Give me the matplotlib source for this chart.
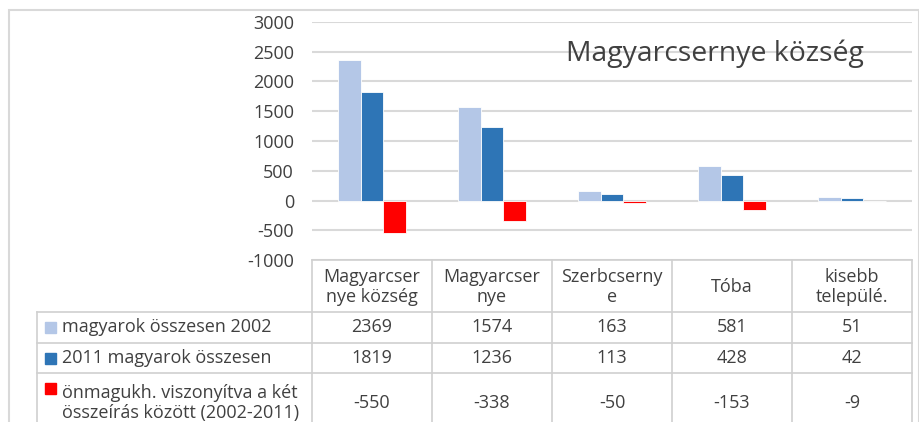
import numpy as np
import matplotlib.pyplot as plt
from matplotlib.patches import Rectangle
from matplotlib.lines import Line2D

# ===============================
# Data
# ===============================
categories = ["Magyarcser\nnye község", "Magyarcser\nnye", "Szerbcserny\ne", "Tóba", "kisebb\ntelepülé."]
series_names = ["magyarok összesen 2002", "2011 magyarok összesen",
                "önmagukh. viszonyítva a két\nösszeírás között (2002-2011)"]
hu_2002 = [2369, 1574, 163, 581, 51]
hu_2011 = [1819, 1236, 113, 428, 42]
change = [-550, -338, -50, -153, -9]
colors = ["#B4C7E7", "#2E75B6", "#FF0000"]

plt.rcParams['font.family'] = ['Open Sans', 'DejaVu Sans']
plt.rcParams['axes.unicode_minus'] = False

W, H = 920, 422
fig = plt.figure(figsize=(W / 100, H / 100), dpi=100)

def fx(px):
    return px / W

def fy(py):
    return 1 - py / H

# outer chart frame
fig.add_artist(Rectangle((fx(9), fy(440)), fx(910), (440 - 10) / H, transform=fig.transFigure,
                         fill=False, edgecolor="#d9d9d9", linewidth=1.5))

# ===============================
# Bars
# ===============================
ax = fig.add_axes([fx(312), fy(260), fx(600), (260 - 22) / H])
x = np.arange(len(categories))
w = 0.19
for i, vals in enumerate([hu_2002, hu_2011, change]):
    ax.bar(x + (i - 1) * w, vals, width=w, color=colors[i], edgecolor="white", linewidth=0.6, zorder=3)

ax.set_xlim(-0.5, len(categories) - 0.5)
ax.set_ylim(-1000, 3000)
ax.set_yticks(range(-1000, 3001, 500))
ax.tick_params(axis='y', length=0, labelsize=13, labelcolor="#404040", pad=13)
ax.set_xticks([])
ax.grid(axis='y', color="#d9d9d9", linewidth=1.5, zorder=0)
for s in ax.spines.values():
    s.set_visible(False)

ax.text(0.672, 0.865, "Magyarcsernye község", transform=ax.transAxes, ha='center', va='center',
        fontsize=20.4, color="#404040")

# ===============================
# Data table below the chart
# ===============================
tax = fig.add_axes([fx(312), 0, fx(600), fy(260)], sharex=ax)
tax.set_ylim(H, 260)  # pixel rows, top = 260
tax.axis('off')

grid_c = "#d0d0d0"
row_edges = [260, 312, 343, 373, 440]
n = len(categories)

def hline(x0, x1, y):
    tax.add_line(Line2D([x0, x1], [y, y], color=grid_c, linewidth=1.2, clip_on=False))

def vline(xv, y0, y1):
    tax.add_line(Line2D([xv, xv], [y0, y1], color=grid_c, linewidth=1.2, clip_on=False))

# row-label block starts at pixel 37
left_lab = -0.5 - (312 - 37) / 120
hline(-0.5, n - 0.5, row_edges[0])
for y in row_edges[1:4]:
    hline(left_lab, n - 0.5, y)
for k in range(n + 1):
    vline(k - 0.5, row_edges[0], row_edges[-1])
vline(left_lab, row_edges[1], row_edges[-1])

tc = "#404040"
fs = 13
for k, cat in enumerate(categories):
    tax.text(k, (row_edges[0] + row_edges[1]) / 2 + 1, cat, ha='center', va='center',
             fontsize=fs, color=tc, linespacing=1.1, clip_on=False)

row_vals = [hu_2002, hu_2011, change]
row_centers = [(312 + 343) / 2, (343 + 373) / 2, 403]
sq = 11 / 120
for r, (name, vals) in enumerate(zip(series_names, row_vals)):
    yc = row_centers[r]
    ytop = 373 + 15 if r == 2 else yc
    tax.add_patch(Rectangle((left_lab + 8 / 120, ytop - 5.5), sq, 11, color=colors[r], clip_on=False))
    tax.text(left_lab + 25 / 120, yc, name, ha='left', va='center', fontsize=fs, color=tc,
             linespacing=1.1, clip_on=False)
    for k, v in enumerate(vals):
        tax.text(k, yc, str(v), ha='center', va='center', fontsize=fs, color=tc, clip_on=False)

fig.savefig("out.png", dpi=100)
